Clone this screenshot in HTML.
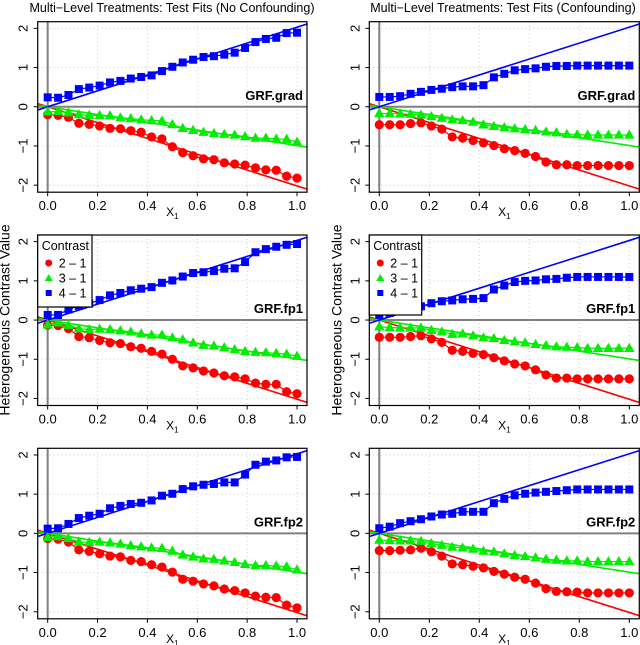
<!DOCTYPE html>
<html><head><meta charset="utf-8">
<style>
html,body{margin:0;padding:0;background:#fff;}
svg{display:block;font-family:"Liberation Sans",sans-serif;}
</style></head>
<body>
<svg id="chart" width="640" height="645" viewBox="0 0 640 645" xmlns="http://www.w3.org/2000/svg"></svg>
<script>
const xTicks = [0, 0.2, 0.4, 0.6, 0.8, 1.0];
const xTickLabels = ["0.0","0.2","0.4","0.6","0.8","1.0"];
const yTicks = [-2, -1, 0, 1, 2];
const yTickLabels = ["−2","−1","0","1","2"];
const nPoints = 25;
const panelLabels = ["GRF.grad","GRF.grad","GRF.fp1","GRF.fp1","GRF.fp2","GRF.fp2"];
const seriesNames = ["2 – 1","3 – 1","4 – 1"];
const trueSlopes = [-2.02, -0.99, 2.03];

const red_grad_nc = [-0.2,-0.22,-0.27,-0.42,-0.45,-0.49,-0.55,-0.56,-0.61,-0.65,-0.77,-0.82,-1.02,-1.17,-1.25,-1.33,-1.35,-1.43,-1.46,-1.49,-1.56,-1.61,-1.62,-1.77,-1.82];
const green_grad_nc = [-0.13,-0.12,-0.15,-0.2,-0.22,-0.22,-0.23,-0.28,-0.3,-0.33,-0.35,-0.36,-0.45,-0.55,-0.6,-0.65,-0.68,-0.7,-0.72,-0.76,-0.8,-0.8,-0.82,-0.83,-0.9];
const blue_grad_nc = [0.24,0.23,0.3,0.45,0.49,0.54,0.62,0.66,0.72,0.76,0.8,0.91,1.02,1.13,1.2,1.27,1.29,1.33,1.38,1.5,1.65,1.73,1.76,1.88,1.89];

const red_grad_c = [-0.46,-0.46,-0.46,-0.43,-0.41,-0.49,-0.57,-0.77,-0.8,-0.86,-0.92,-0.99,-1.07,-1.12,-1.19,-1.27,-1.41,-1.48,-1.48,-1.5,-1.5,-1.5,-1.5,-1.5,-1.5];
const green_grad_c = [-0.17,-0.17,-0.18,-0.19,-0.21,-0.25,-0.29,-0.33,-0.35,-0.39,-0.46,-0.5,-0.53,-0.56,-0.58,-0.6,-0.64,-0.66,-0.7,-0.71,-0.72,-0.72,-0.72,-0.72,-0.72];
const blue_grad_c = [0.25,0.25,0.27,0.33,0.38,0.43,0.46,0.5,0.52,0.52,0.55,0.75,0.84,0.93,0.96,0.98,1.02,1.04,1.04,1.05,1.05,1.05,1.05,1.05,1.05];

const red_fp1_nc = [-0.13,-0.14,-0.22,-0.42,-0.45,-0.52,-0.58,-0.6,-0.68,-0.72,-0.8,-0.87,-1.0,-1.17,-1.22,-1.3,-1.35,-1.42,-1.45,-1.5,-1.61,-1.64,-1.64,-1.83,-1.88];
const green_fp1_nc = [-0.12,-0.07,-0.13,-0.22,-0.24,-0.23,-0.24,-0.27,-0.3,-0.35,-0.38,-0.38,-0.45,-0.5,-0.58,-0.64,-0.66,-0.7,-0.75,-0.8,-0.82,-0.83,-0.85,-0.87,-0.92];
const blue_fp1_nc = [0.13,0.13,0.27,0.36,0.42,0.51,0.63,0.69,0.76,0.8,0.84,0.95,1.01,1.11,1.2,1.22,1.25,1.31,1.32,1.48,1.73,1.81,1.87,1.92,1.94];

const red_fp1_c = [-0.44,-0.44,-0.44,-0.42,-0.4,-0.48,-0.57,-0.77,-0.8,-0.85,-0.88,-0.96,-1.04,-1.12,-1.17,-1.27,-1.4,-1.48,-1.48,-1.5,-1.5,-1.5,-1.5,-1.5,-1.5];
const green_fp1_c = [-0.17,-0.19,-0.2,-0.2,-0.2,-0.26,-0.3,-0.36,-0.35,-0.4,-0.45,-0.47,-0.52,-0.55,-0.58,-0.62,-0.65,-0.68,-0.69,-0.7,-0.72,-0.72,-0.72,-0.72,-0.72];
const blue_fp1_c = [0.13,0.18,0.25,0.3,0.35,0.43,0.48,0.5,0.53,0.54,0.56,0.78,0.88,0.97,1.0,1.01,1.04,1.05,1.08,1.1,1.1,1.1,1.1,1.1,1.1];

const red_fp2_nc = [-0.13,-0.15,-0.22,-0.42,-0.46,-0.52,-0.58,-0.6,-0.69,-0.72,-0.8,-0.86,-0.99,-1.17,-1.22,-1.29,-1.34,-1.42,-1.46,-1.52,-1.6,-1.63,-1.64,-1.83,-1.9];
const green_fp2_nc = [-0.1,-0.08,-0.13,-0.22,-0.23,-0.22,-0.24,-0.27,-0.31,-0.34,-0.37,-0.38,-0.45,-0.55,-0.6,-0.65,-0.66,-0.7,-0.74,-0.79,-0.82,-0.82,-0.83,-0.85,-0.93];
const blue_fp2_nc = [0.12,0.13,0.24,0.39,0.45,0.5,0.64,0.7,0.75,0.78,0.84,0.96,1.01,1.13,1.2,1.24,1.26,1.3,1.3,1.5,1.75,1.83,1.86,1.94,1.95];

const red_fp2_c = [-0.44,-0.44,-0.43,-0.42,-0.38,-0.47,-0.58,-0.78,-0.8,-0.84,-0.88,-0.97,-1.04,-1.12,-1.17,-1.27,-1.41,-1.48,-1.49,-1.5,-1.52,-1.52,-1.52,-1.52,-1.52];
const green_fp2_c = [-0.17,-0.18,-0.19,-0.19,-0.2,-0.26,-0.3,-0.35,-0.37,-0.4,-0.45,-0.47,-0.52,-0.56,-0.59,-0.62,-0.66,-0.68,-0.7,-0.7,-0.72,-0.72,-0.72,-0.72,-0.72];
const blue_fp2_c = [0.13,0.17,0.26,0.31,0.36,0.43,0.48,0.5,0.55,0.55,0.55,0.77,0.88,0.97,1.01,1.04,1.06,1.08,1.1,1.12,1.12,1.12,1.12,1.12,1.12];

const panelData = [
  [red_grad_nc, green_grad_nc, blue_grad_nc],
  [red_grad_c, green_grad_c, blue_grad_c],
  [red_fp1_nc, green_fp1_nc, blue_fp1_nc],
  [red_fp1_c, green_fp1_c, blue_fp1_c],
  [red_fp2_nc, green_fp2_nc, blue_fp2_nc],
  [red_fp2_c, green_fp2_c, blue_fp2_c]
];

const NS = "http://www.w3.org/2000/svg";
const svg = document.getElementById("chart");
function mk(tag, attrs, parent, text) {
  const e = document.createElementNS(NS, tag);
  for (const k in attrs) e.setAttribute(k, attrs[k]);
  if (text !== undefined) e.textContent = text;
  (parent || svg).appendChild(e);
  return e;
}
const colors = ["#ff0000", "#00ee00", "#0000ff"];
const colLeft = [37.7, 369.3];
const rowTop = [21.7, 235, 448.3];
const boxW = [269.3, 270];
const boxH = 170.5;
const xmin = -0.04, xmax = 1.04, ymin = -2.18, ymax = 2.17;

function drawMarker(g, k, cx, cy, name) {
  let m;
  if (k === 0) m = mk("circle", {cx: cx, cy: cy, r: 4.6, fill: colors[0]}, g);
  else if (k === 1) m = mk("polygon", {points: `${cx},${cy-5.5} ${cx+5.2},${cy+3.7} ${cx-5.2},${cy+3.7}`, fill: colors[1]}, g);
  else m = mk("rect", {x: cx-4, y: cy-4, width: 8, height: 8, fill: colors[2]}, g);
  
  
}

const t1 = mk("text", {x: 172, y: 12, "text-anchor": "middle", "font-size": 12.5, fill: "#000"}, svg, "Multi−Level Treatments: Test Fits (No Confounding)");


const t2 = mk("text", {x: 503, y: 12, "text-anchor": "middle", "font-size": 12.5, fill: "#000"}, svg, "Multi−Level Treatments: Test Fits (Confounding)");



for (let p = 0; p < 6; p++) {
  const col = p % 2, row = Math.floor(p / 2);
  const L = colLeft[col], T = rowTop[row], W = boxW[col], H = boxH;
  const sx = v => L + (v - xmin) / (xmax - xmin) * W;
  const sy = v => T + (ymax - v) / (ymax - ymin) * H;
  const g = mk("g", {});
  
  
  const clipId = "clip" + p;
  const cp = mk("clipPath", {id: clipId}, g);
  mk("rect", {x: L, y: T, width: W, height: H}, cp);
  xTicks.forEach(v => mk("line", {x1: sx(v), x2: sx(v), y1: T, y2: T + H, stroke: "#cccccc", "stroke-dasharray": "1,3"}, g));
  yTicks.forEach(v => mk("line", {x1: L, x2: L + W, y1: sy(v), y2: sy(v), stroke: "#cccccc", "stroke-dasharray": "1,3"}, g));
  const zl = mk("line", {x1: L, x2: L + W, y1: sy(0), y2: sy(0), stroke: "#808080", "stroke-width": 2}, g);
  
  
  const vl = mk("line", {x1: sx(0), x2: sx(0), y1: T, y2: T + H, stroke: "#808080", "stroke-width": 2}, g);
  
  
  const cg = mk("g", {"clip-path": `url(#${clipId})`}, g);
  for (let k = 0; k < 3; k++) {
    const tl = mk("line", {x1: sx(xmin), y1: sy(trueSlopes[k] * xmin), x2: sx(xmax), y2: sy(trueSlopes[k] * xmax), stroke: colors[k], "stroke-width": 1.6}, cg);
    
    
  }
  for (let k = 0; k < 3; k++) {
    const vals = panelData[p][k];
    const pts = vals.map((v, i) => sx(i / (nPoints - 1)) + "," + sy(v)).join(" ");
    const pl = mk("polyline", {points: pts, fill: "none", stroke: colors[k], "stroke-width": 1.2}, cg);
    
    
    vals.forEach((v, i) => drawMarker(cg, k, sx(i / (nPoints - 1)), sy(v), 'point-' + k + '-' + i));
  }
  const bx = mk("rect", {x: L, y: T, width: W, height: H, fill: "none", stroke: "#000", "stroke-width": 1.2}, g);
  
  
  xTicks.forEach((v, i) => {
    mk("line", {x1: sx(v), x2: sx(v), y1: T + H, y2: T + H + 4, stroke: "#000"}, g);
    const tx = mk("text", {x: sx(v), y: T + H + 18, "text-anchor": "middle", "font-size": 13}, g, xTickLabels[i]);
    
    
  });
  yTicks.forEach((v, i) => {
    mk("line", {x1: L - 4, x2: L, y1: sy(v), y2: sy(v), stroke: "#000"}, g);
    const ty = mk("text", {x: L - 10, y: sy(v), "text-anchor": "middle", "font-size": 13, transform: `rotate(-90 ${L - 10} ${sy(v)})`}, g, yTickLabels[i]);
    
    
  });
  const xt = mk("text", {x: sx(0.5), y: T + H + 24, "text-anchor": "middle", "font-size": 12}, g);
  
  
  mk("tspan", {}, xt, "X");
  mk("tspan", {"font-size": 8, dy: 3}, xt, "1");
  const pl2 = mk("text", {x: L + W - 4, y: sy(0) - 7, "text-anchor": "end", "font-size": 13, "font-weight": "bold"}, g, panelLabels[p]);
  
  

  if (row === 1) {
    const yx = L - 28;
    const yt = mk("text", {x: yx, y: 320, "text-anchor": "middle", "font-size": 14, transform: `rotate(-90 ${yx} 320)`}, g, "Heterogeneous Contrast Value");
    
    
    const lw = col ? 52.4 : 54.3, lh = col ? 80 : 72;
    const lg = mk("g", {});
    
    
    mk("rect", {x: L, y: T, width: lw, height: lh, fill: "#fff", stroke: "#000", "stroke-width": 1.2}, lg);
    const lt = mk("text", {x: L + 4, y: T + 15, "font-size": 12.5}, lg, "Contrast");
    
    
    const gap = 15;
    for (let k = 0; k < 3; k++) {
      const cy = T + 28 + k * gap;
      const eg = mk("g", {}, lg);
      
      
      if (k === 0) mk("circle", {cx: L + 11, cy: cy, r: 3.5, fill: colors[0]}, eg);
      else if (k === 1) mk("polygon", {points: `${L+11},${cy-4} ${L+15},${cy+3} ${L+7},${cy+3}`, fill: colors[1]}, eg);
      else mk("rect", {x: L + 8, y: cy - 3, width: 6, height: 6, fill: colors[2]}, eg);
      mk("text", {x: L + 21, y: cy + 4.5, "font-size": 12.5}, eg, seriesNames[k]);
    }
  }
}
</script>
</body></html>
